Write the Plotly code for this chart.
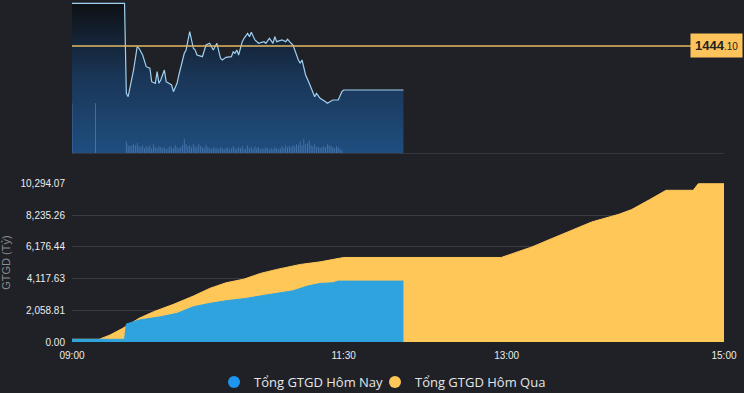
import plotly.graph_objects as go
import pandas as pd

DAY = "2024-01-02 "

# ---- top panel: index price ----
price_times = ["09:00","09:29","09:30","09:31","09:34","09:36","09:37","09:39","09:41","09:43","09:44","09:46","09:47","09:48","09:49","09:51","09:52","09:55","09:56","09:58","09:59","10:02","10:03","10:05","10:07","10:08","10:09","10:12","10:14","10:16","10:18","10:20","10:22","10:23","10:25","10:28","10:29","10:30","10:31","10:32","10:34","10:35","10:37","10:38","10:39","10:41","10:43","10:46","10:47","10:49","10:51","10:52","10:53","10:56","10:58","10:59","11:01","11:02","11:05","11:06","11:07","11:09","11:11","11:14","11:15","11:17","11:20","11:21","11:24","11:27","11:29","11:30","12:03"]
price_vals = [1448.37,1448.37,1439.37,1439.03,1441.70,1444.03,1443.87,1443.20,1442.03,1441.87,1440.53,1440.37,1441.53,1440.37,1440.70,1441.70,1440.53,1440.20,1439.53,1440.37,1441.20,1443.37,1443.70,1445.53,1443.87,1443.70,1443.20,1443.03,1444.20,1444.37,1443.70,1444.37,1442.87,1442.70,1442.97,1443.03,1443.53,1443.37,1443.70,1443.20,1444.53,1444.87,1445.37,1445.03,1445.47,1444.70,1444.37,1444.53,1444.37,1444.87,1444.37,1445.03,1444.53,1444.70,1444.53,1444.77,1444.37,1444.20,1442.70,1442.37,1442.70,1441.20,1440.37,1439.03,1439.37,1438.87,1438.53,1438.37,1438.70,1438.70,1439.53,1439.70,1439.70]
ref_price = 1444.10

vol_early_times = ["09:00", "09:13"]
vol_early_vals = [50, 50]
vol_minute_vals = [
    11.7, 8, 7, 8, 9, 8, 10, 7, 6, 8,
    5, 7, 6, 8, 5, 9, 6, 5, 7, 6,
    5, 6, 4, 5, 7, 6, 5, 8, 6, 5,
    6, 8, 14, 9, 7, 8, 6, 9, 7, 6,
    9, 7, 6, 5, 8, 6, 5, 4, 6, 5,
    5, 4, 6, 5, 4, 5, 6, 4, 5, 7,
    5, 4, 6, 5, 7, 4, 5, 8, 5, 6,
    4, 7, 5, 6, 4, 5, 4, 6, 5, 4,
    5, 4, 6, 5, 4, 5, 7, 5, 8, 6,
    7, 6, 8, 7, 9, 8, 12, 8, 14, 9,
    10, 13, 8, 7, 9, 6, 7, 5, 6, 7,
    6, 9, 8, 7, 6, 5, 7, 6, 4, 3,
]

# ---- bottom panel: cumulative traded value ----
today_times = ["09:00","09:29","09:30","09:37","09:49","09:58","10:07","10:16","10:25","10:36","10:47","11:02","11:10","11:17","11:24","11:27","12:03"]
today_vals = [175,175,1165,1424,1638,1858,2285,2505,2674,2829,3043,3321,3625,3800,3839,3949,3949]

yest_times = ["09:00","09:15","09:21","09:28","09:37","09:45","09:56","10:07","10:16","10:25","10:35","10:44","10:53","11:02","11:06","11:17","11:30","12:57","13:14","13:25","13:47","14:02","14:09","14:19","14:28","14:43","14:46","15:00"]
yest_vals = [175,175,453,887,1534,1962,2441,2978,3476,3839,4079,4448,4707,4940,5030,5198,5483,5483,6170,6713,7788,8287,8591,9239,9840,9840,10294.07,10294.07]

x_tick_labels = ["09:00", "11:30", "13:00", "15:00"]
name_today = "Tổng GTGD Hôm Nay"
name_yest = "Tổng GTGD Hôm Qua"
y_title = "GTGD (Tỷ)"


def t(lst):
    return [DAY + s for s in lst]


vol_minute_times = pd.date_range(DAY + "09:30", periods=len(vol_minute_vals), freq="1min")
vol_times = t(vol_early_times) + [d.strftime("%Y-%m-%d %H:%M") for d in vol_minute_times]
vol_vals = vol_early_vals + vol_minute_vals

BG = "#1f2127"
BLUE = "#2fa3de"
YEL = "#ffc658"

p_lo, p_hi = 1433.37, 1448.5

fig = go.Figure()

fig.add_trace(go.Bar(
    x=vol_times, y=vol_vals, xaxis="x", yaxis="y3",
    marker=dict(color="rgba(110,160,220,0.5)", line=dict(width=0)),
    width=30000, showlegend=False, hoverinfo="skip"))

fig.add_trace(go.Scatter(
    x=t(price_times), y=price_vals, xaxis="x", yaxis="y",
    mode="lines", line=dict(color="#9fd0f0", width=1.2),
    fill="tozeroy",
    fillgradient=dict(type="vertical",
                      colorscale=[[0, "#1f4e80"], [0.5, "#1a3658"], [1, "#0e1014"]],
                      start=p_lo, stop=p_hi),
    showlegend=False, hoverinfo="skip"))

fig.add_trace(go.Scatter(
    x=t(yest_times), y=yest_vals, xaxis="x2", yaxis="y2",
    mode="lines", line=dict(color=YEL, width=1), fill="tozeroy", fillcolor=YEL,
    showlegend=False, name=name_yest))
fig.add_trace(go.Scatter(
    x=t(today_times), y=today_vals, xaxis="x2", yaxis="y2",
    mode="lines", line=dict(color=BLUE, width=1), fill="tozeroy", fillcolor=BLUE,
    showlegend=False, name=name_today))

# legend entries (circle markers), one legend box per entry
fig.add_trace(go.Scatter(x=[None], y=[None], xaxis="x2", yaxis="y2", mode="markers",
                         marker=dict(color="#1e96f0", size=11), name=name_today,
                         legend="legend"))
fig.add_trace(go.Scatter(x=[None], y=[None], xaxis="x2", yaxis="y2", mode="markers",
                         marker=dict(color=YEL, size=11), name=name_yest,
                         legend="legend2"))

ymax = max(yest_vals)
yticks = [ymax * k / 5 for k in range(6)]

xr = [DAY + "09:00", DAY + "15:00"]

tick_font = dict(family="Arial, Liberation Sans", size=10, color="#ececec")
legend_common = dict(orientation="h", xanchor="left",
                     yref="container", y=1 - 382 / 393, yanchor="middle",
                     font=dict(family="Open Sans", size=13, color="#e6e6e6"),
                     itemsizing="constant", bgcolor="rgba(0,0,0,0)")

fig.update_layout(
    width=744, height=393,
    paper_bgcolor=BG, plot_bgcolor=BG,
    margin=dict(l=72, r=20, t=0, b=51, autoexpand=False),
    font=dict(family="Arial, Liberation Sans", color="#d8d8d8", size=11),
    xaxis=dict(domain=[0, 1], anchor="y", range=xr, type="date", matches="x2",
               showticklabels=False, showgrid=False, zeroline=False, automargin=False,
               showline=True, linecolor="#34373e", linewidth=1),
    yaxis=dict(domain=[0.5518, 0.9942], range=[p_lo, p_hi], showgrid=False,
               showticklabels=False, zeroline=False, automargin=False),
    yaxis3=dict(overlaying="y", range=[0, 151.3], showgrid=False,
                showticklabels=False, zeroline=False, visible=False),
    xaxis2=dict(domain=[0, 1], anchor="y2", range=xr, type="date", automargin=False,
                tickvals=t(x_tick_labels), ticktext=x_tick_labels,
                showgrid=False, zeroline=False, ticks="", ticklabelstandoff=6,
                tickfont=tick_font),
    yaxis2=dict(domain=[0, 0.464], range=[0, ymax], tickvals=yticks, automargin=False,
                tickformat=",.2f", gridcolor="#3a3c43", gridwidth=1,
                zeroline=False, ticks="", ticklabelstandoff=6,
                tickfont=tick_font,
                title=dict(text=y_title, font=dict(size=11, color="#8a8d93"), standoff=8)),
    legend=dict(x=0.2178, **legend_common),
    legend2=dict(x=0.4647, **legend_common),
    shapes=[dict(type="line", xref="x domain", x0=0, x1=0.952, yref="y",
                 y0=ref_price, y1=ref_price, line=dict(color="#e3b865", width=1.5))],
    annotations=[dict(xref="paper", x=1.029, xanchor="right", yref="y", y=ref_price,
                      yanchor="middle", showarrow=False,
                      text="<b>1444</b><span style='font-size:10px'>.10</span>",
                      font=dict(size=13, color="#222222"),
                      bgcolor="#fec35a", borderpad=4)],
)

fig.write_html("out.html", config={"displayModeBar": False},
               post_script="document.body.style.margin='0';")
